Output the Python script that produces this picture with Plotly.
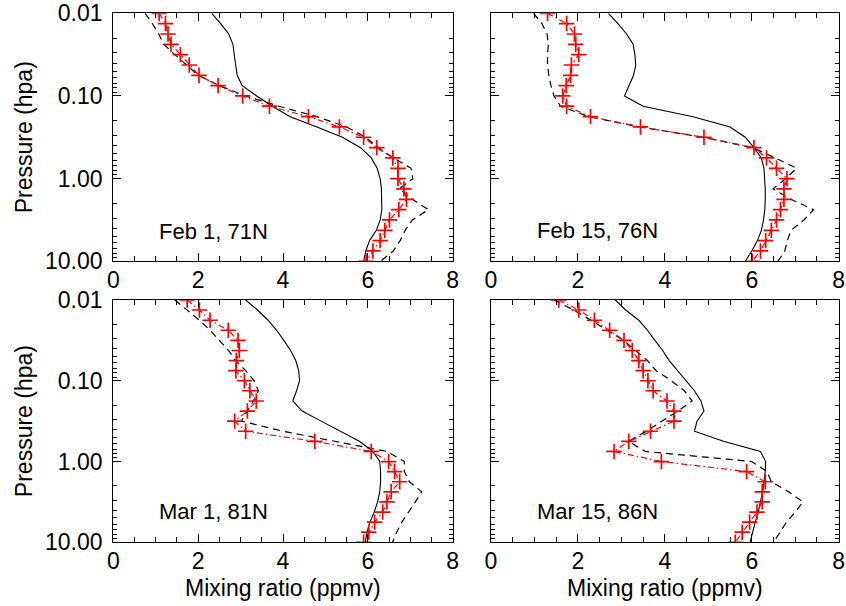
import plotly.graph_objects as go

# Pressure levels (hPa)
pressure = [0.01, 0.0133, 0.0178, 0.0237, 0.0316, 0.0422, 0.0562, 0.075, 0.1, 0.133,
            0.178, 0.237, 0.316, 0.422, 0.562, 0.75, 1.0, 1.33, 1.78, 2.37,
            3.16, 4.22, 5.62, 7.5, 10.0]

# Feb 1, 71N
feb1_solid = [2.32, 2.53, 2.72, 2.82, 2.85, 2.88, 2.92, 3.04, 3.38, 3.75, 4.17, 4.8, 5.4,
              5.83, 6.08, 6.22, 6.29, 6.32, 6.33, 6.33, 6.29, 6.2, 6.04, 5.95, 5.9]
feb1_dash = [0.75, 0.92, 1.07, 1.19, 1.45, 1.72, 2.0, 2.5, 3.12, 3.9, 4.8, 5.5, 5.95,
             6.24, 6.6, 7.02, 7.06, 6.74, 7.05, 7.43, 7.05, 6.88, 6.76, 6.6, 6.3]
feb1_red = [1.08, 1.23, 1.29, 1.36, 1.58, 1.79, 2.02, 2.47, 3.05, 3.68, 4.6, 5.33, 5.9,
            6.21, 6.59, 6.71, 6.71, 6.85, 6.91, 6.73, 6.51, 6.4, 6.29, 6.12, 5.96]

# Feb 15, 76N
feb15_solid = [2.7, 2.92, 3.12, 3.27, 3.31, 3.33, 3.28, 3.18, 3.07, 3.5, 4.65, 5.5, 5.85,
               6.05, 6.22, 6.28, 6.3, 6.31, 6.31, 6.3, 6.27, 6.22, 6.13, 6.0, 5.85]
feb15_dash = [0.98, 1.17, 1.29, 1.32, 1.3, 1.3, 1.33, 1.38, 1.45, 1.6, 2.25, 3.42, 4.88,
              6.02, 6.54, 7.03, 6.78, 6.49, 6.9, 7.42, 7.2, 6.9, 6.82, 6.76, 6.6]
feb15_red = [1.3, 1.74, 1.92, 1.95, 2.02, 1.85, 1.83, 1.73, 1.65, 1.74, 2.29, 3.44, 4.9,
             6.05, 6.34, 6.57, 6.81, 6.74, 6.74, 6.66, 6.57, 6.45, 6.32, 6.2, 6.01]

# Mar 1, 81N
mar1_solid = [3.12, 3.4, 3.65, 3.85, 4.02, 4.18, 4.3, 4.37, 4.39, 4.32, 4.23, 4.45, 4.9,
              5.35, 5.8, 6.12, 6.28, 6.3, 6.3, 6.28, 6.23, 6.15, 6.05, 5.98, 5.94]
mar1_dash = [1.45, 1.75, 2.03, 2.28, 2.5, 2.72, 2.88, 3.12, 3.32, 3.42, 3.3, 3.15, 3.02,
             4.0, 5.25, 6.45, 6.86, 6.86, 6.98, 7.27, 7.12, 6.96, 6.8, 6.68, 6.58]
mar1_red = [1.74, 2.03, 2.28, 2.71, 2.94, 2.97, 2.9, 2.89, 3.09, 3.22, 3.37, 3.16, 2.86,
            3.12, 4.75, 6.08, 6.49, 6.63, 6.75, 6.55, 6.45, 6.35, 6.16, 6.02, 5.9]

# Mar 15, 86N
mar15_solid = [2.86, 3.1, 3.4, 3.6, 3.77, 3.95, 4.1, 4.3, 4.48, 4.68, 4.83, 4.9, 4.74,
               4.68, 5.35, 6.2, 6.32, 6.31, 6.28, 6.25, 6.2, 6.15, 6.08, 6.02, 5.96]
mar15_dash = [1.45, 1.9, 2.3, 2.68, 3.05, 3.33, 3.6, 3.8, 4.15, 4.45, 4.63, 4.3, 3.95,
              3.57, 3.17, 3.55, 6.0, 6.35, 6.45, 6.85, 7.18, 7.0, 6.8, 6.65, 6.5]
mar15_red = [1.56, 2.02, 2.38, 2.73, 3.06, 3.25, 3.4, 3.5, 3.61, 3.73, 4.05, 4.21, 4.21,
             3.67, 3.17, 2.83, 3.92, 5.88, 6.31, 6.24, 6.24, 6.12, 5.95, 5.78, 5.62]

panel_labels = ["Feb 1, 71N", "Feb 15, 76N", "Mar 1, 81N", "Mar 15, 86N"]
x_ticks = [0, 2, 4, 6, 8]
x_minor = [0.5, 1, 1.5, 2.5, 3, 3.5, 4.5, 5, 5.5, 6.5, 7, 7.5]
y_ticks = [0.01, 0.1, 1.0, 10.0]
y_ticktext = ["0.01", "0.10", "1.00", "10.00"]
y_minor = [0.02, 0.03, 0.04, 0.05, 0.06, 0.07, 0.08, 0.09,
           0.2, 0.3, 0.4, 0.5, 0.6, 0.7, 0.8, 0.9,
           2, 3, 4, 5, 6, 7, 8, 9]
x_title = "Mixing ratio (ppmv)"
y_title = "Pressure (hpa)"

panels = [
    (feb1_solid, feb1_dash, feb1_red),
    (feb15_solid, feb15_dash, feb15_red),
    (mar1_solid, mar1_dash, mar1_red),
    (mar15_solid, mar15_dash, mar15_red),
]

W, H = 846, 606
FONT = "Liberation Sans, Arial, Helvetica, sans-serif"

fig = go.Figure()
for i, (sol, das, red) in enumerate(panels):
    ax = "" if i == 0 else str(i + 1)
    xa, ya = "x" + ax, "y" + ax
    fig.add_trace(go.Scatter(x=sol, y=pressure, mode="lines", xaxis=xa, yaxis=ya,
                             line=dict(color="black", width=1.1), showlegend=False))
    fig.add_trace(go.Scatter(x=das, y=pressure, mode="lines", xaxis=xa, yaxis=ya,
                             line=dict(color="black", width=1.2, dash="7px,5px"),
                             showlegend=False))
    fig.add_trace(go.Scatter(x=red, y=pressure, mode="lines+markers", xaxis=xa, yaxis=ya,
                             line=dict(color="#ff0000", width=1.2, dash="6px,3px,1.5px,3px"),
                             marker=dict(symbol="cross-thin", size=11,
                                         line=dict(color="#ff0000", width=1.7)),
                             showlegend=False))

# panel geometry in pixels
xdom = [(113.3, 452.7), (491.0, 838.7)]
ydom = [(13.3, 261.3), (300.0, 542.3)]


def px_x(v):
    return v / W


def px_y(v):
    return 1 - v / H


layout = dict(width=W, height=H, margin=dict(l=0, r=0, t=0, b=0, autoexpand=False),
              paper_bgcolor="white", plot_bgcolor="white",
              font=dict(family=FONT, color="black", size=23), showlegend=False)

for i in range(4):
    col, row = i % 2, i // 2
    ax = "" if i == 0 else str(i + 1)
    xd = [px_x(xdom[col][0]), px_x(xdom[col][1])]
    yd = [px_y(ydom[row][1]), px_y(ydom[row][0])]
    layout["xaxis" + ax] = dict(
        domain=xd, anchor="y" + ax, range=[0, 8], tickmode="array", tickvals=x_ticks,
        ticks="inside", ticklen=8, tickwidth=1, tickcolor="black", automargin=False,
        showline=True, linecolor="black", linewidth=1.2, mirror="allticks",
        showgrid=False, zeroline=False, ticklabelstandoff=-2,
        tickfont=dict(size=23, family=FONT, color="black"),
        minor=dict(tickmode="array", tickvals=x_minor, ticks="inside", ticklen=5,
                   tickwidth=1, tickcolor="black", showgrid=False))
    layout["yaxis" + ax] = dict(
        domain=yd, anchor="x" + ax, type="log", range=[1, -2], tickmode="array",
        tickvals=y_ticks, ticktext=y_ticktext, showticklabels=(col == 0),
        ticks="inside", ticklen=8, tickwidth=1, tickcolor="black", automargin=False,
        showline=True, linecolor="black", linewidth=1.2, mirror="allticks",
        showgrid=False, zeroline=False, ticklabelstandoff=5,
        tickfont=dict(size=23, family=FONT, color="black"),
        minor=dict(tickmode="array", tickvals=y_minor, ticks="inside", ticklen=4,
                   tickwidth=1, tickcolor="black", showgrid=False))

annotations = []
label_pos = [(156.7, 231), (535.3, 230), (156.7, 511), (535.3, 511)]
for i, lab in enumerate(panel_labels):
    annotations.append(dict(text=lab, x=px_x(label_pos[i][0]), y=px_y(label_pos[i][1]),
                            xref="paper", yref="paper", xanchor="left", yanchor="middle",
                            showarrow=False, font=dict(size=22, family=FONT, color="black")))
for row in range(2):
    cy = (ydom[row][0] + ydom[row][1]) / 2
    annotations.append(dict(text=y_title, x=px_x(24), y=px_y(cy), xref="paper", yref="paper",
                            xanchor="center", yanchor="middle", textangle=-90,
                            showarrow=False, font=dict(size=23, family=FONT, color="black")))
for col in range(2):
    cx = (xdom[col][0] + xdom[col][1]) / 2
    annotations.append(dict(text=x_title, x=px_x(cx), y=px_y(588), xref="paper", yref="paper",
                            xanchor="center", yanchor="middle",
                            showarrow=False, font=dict(size=23, family=FONT, color="black")))
layout["annotations"] = annotations

fig.update_layout(**layout)
fig.write_html("out.html", config={"displayModeBar": False},
               post_script="document.body.style.margin='0px';document.body.style.padding='0px';")
